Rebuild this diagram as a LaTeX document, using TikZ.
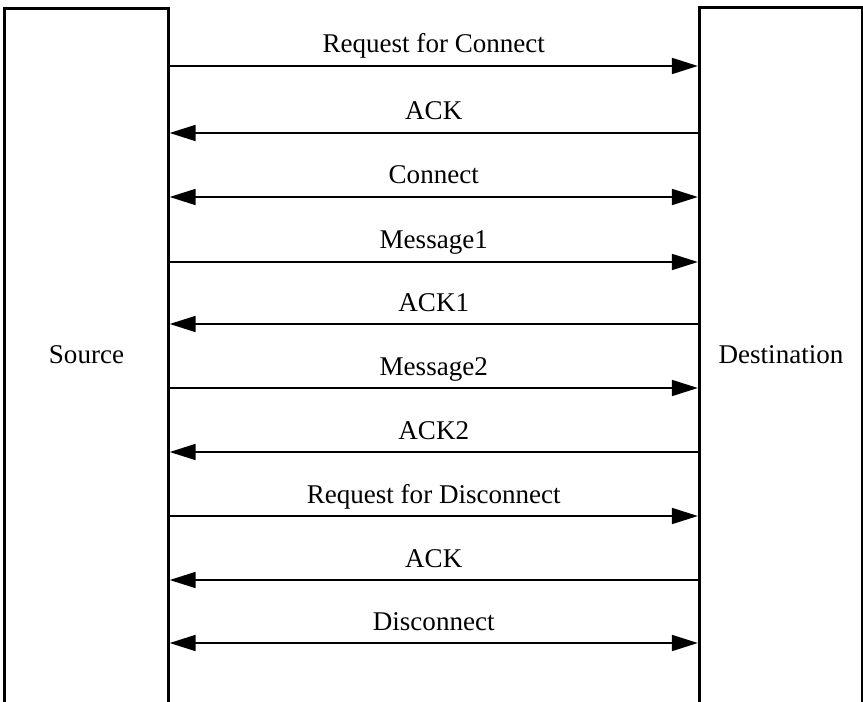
\documentclass[tikz,border=0pt]{standalone}
\usepackage{fontspec}
\setmainfont{Liberation Serif}
\usetikzlibrary{arrows.meta,positioning}
\tikzset{tip/.tip={Triangle[length=9.8pt,width=5.9pt]}}

\begin{document}
\begin{tikzpicture}[x=0.377pt,y=-0.377pt,
    box/.style={draw, line width=1.1pt, minimum width=61.5pt, minimum height=280pt,
      anchor=north, inner sep=0pt},
    msg/.style={line width=1pt},
    fwd/.style={-tip},
    back/.style={tip-},
    both/.style={tip-tip},
    lbl/.style={anchor=base, yshift=4.9pt, font=\fontsize{10.2}{12}\selectfont}]
\clip (0,0) rectangle (863,702);
\node[box] (src) at (86.5,7) {};
\node[box] (dst) at (781,6) {};
\node[font=\fontsize{10.2}{12}\selectfont] (srctxt) at (86.5,355) {Source};
\node[font=\fontsize{10.2}{12}\selectfont] (dsttxt) at (781,355) {Destination};

\foreach \y/\txt/\how in {66/Request for Connect/fwd, 133/ACK/back, 197/Connect/both,
    262/Message1/fwd, 324/ACK1/back, 388/Message2/fwd, 452/ACK2/back,
    516/Request for Disconnect/fwd, 580/ACK/back, 643/Disconnect/both}
  \draw[msg,\how] (src.east |- 0,\y) -- node[lbl] {\txt} (dst.west |- 0,\y);

\end{tikzpicture}
\end{document}
